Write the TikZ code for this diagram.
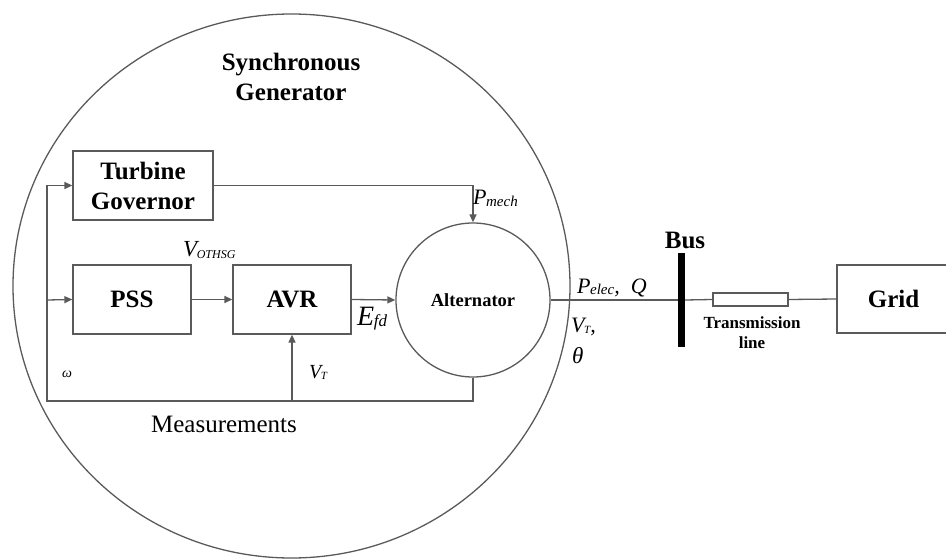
\documentclass[tikz,border=0pt]{standalone}
\usepackage{fontspec}
\setmainfont{Liberation Serif}
\usetikzlibrary{arrows.meta,shapes.geometric}
\definecolor{ln}{HTML}{5A5A5A}
\newcommand{\fs}[1]{\fontsize{#1}{#1}\selectfont}
\newcommand{\myisub}[3]{{\itshape #1\kern-0.5pt\raisebox{-1.5pt}{\fontsize{#3}{#3}\selectfont #2}}}
\begin{document}
\begin{tikzpicture}[x=1pt,y=-1pt,
  conn/.style={draw=ln, line width=1.3pt},
  arr/.style={conn, -{Triangle[length=8pt,width=7pt]}},
  blk/.style={draw=ln, line width=1.3pt, inner sep=0pt, align=center,
              font=\bfseries\fontsize{25}{30}\selectfont},
  lab/.style={inner sep=0pt, text=black}]
\useasboundingbox (0,0) rectangle (946,559);
\clip (0,0) rectangle (946,559);
% big generator outline
\node[draw=ln, line width=1.3pt, ellipse, minimum width=557pt, minimum height=544pt, inner sep=0pt] (sg) at (291.5,286) {};
\node[lab, font=\bfseries\fontsize{25}{30}\selectfont, align=center] (sgt) at (291,77) {Synchronous\\Generator};
% blocks
\node[blk, minimum width=140pt, minimum height=69pt] (tg) at (143,185.5) {Turbine\\Governor};
\node[blk, minimum width=118pt, minimum height=69pt] (pss) at (132,299.5) {PSS};
\node[blk, minimum width=118pt, minimum height=69pt] (avr) at (292,299.5) {AVR};
\node[draw=ln, line width=1.3pt, circle, minimum size=154pt, inner sep=0pt,
      font=\bfseries\fs{18.5}] (alt) at (473,300) {Alternator};
\node[fill=black, minimum width=7pt, minimum height=94pt, inner sep=0pt] (bus) at (681.5,300) {};
\node[draw=ln, line width=1.3pt, minimum width=75pt, minimum height=13pt, inner sep=0pt] (tl) at (750.5,299.5) {};
\node[blk, minimum width=113pt, minimum height=68pt] (grid) at (893.5,299) {Grid};
% feedback coordinates
\coordinate (fbR) at (473,401);
\coordinate (fbL) at (47,401);
\coordinate (fbP) at (47,300);
\coordinate (fbT) at (47,185.5);
% connectors
\draw[arr] (alt.south) -- (fbR) -- (fbL) -- (fbT) -- (tg.west);
\draw[arr] (fbP) -- (pss.west);
\draw[arr] (avr.south |- fbR) -- (avr.south);
\draw[arr] (pss.east) -- (avr.west);
\draw[arr] (avr.east) -- (alt.west);
\draw[arr] (tg.east) -| (alt.north);
\draw[conn] (alt.east) -- (bus.west);
\draw[conn] (bus.east) -- (tl.west);
\draw[conn] (tl.east) -- (grid.west);
% labels
\node[lab, anchor=base west] (lv) at (183,257) {\fs{23}\myisub{V}{OTHSG}{12}};
\node[lab, anchor=base west] (le) at (357,325) {\fs{28}\myisub{E}{fd}{17}};
\node[lab, anchor=base west] (lvt) at (309,378) {\fs{20}\myisub{V}{T}{11}};
\node[lab, anchor=base west] (lw) at (62,377) {\fs{14}\itshape ω};
\node[lab, anchor=base west] (lm) at (473,205) {\fs{22}\myisub{P}{mech}{15}};
\node[lab, anchor=base west] (lp) at (577,293) {\fs{22}\myisub{P}{elec}{15}\itshape,\ \ Q};
\node[lab, anchor=base west] (lv2) at (571,332) {\fs{22}\myisub{V}{T}{11}\itshape,};
\node[lab, anchor=base west] (lth) at (572,363) {\fs{23}\itshape θ};
\node[lab, anchor=base, font=\fs{25}] (meas) at (224,432) {Measurements};
\node[lab, anchor=base, font=\bfseries\fs{25}] (lbus) at (685,248) {Bus};
\node[lab, anchor=base, font=\bfseries\fs{17}] (ltl1) at (752,328) {Transmission};
\node[lab, anchor=base, font=\bfseries\fs{17}] (ltl2) at (752,348) {line};
\end{tikzpicture}
\end{document}
